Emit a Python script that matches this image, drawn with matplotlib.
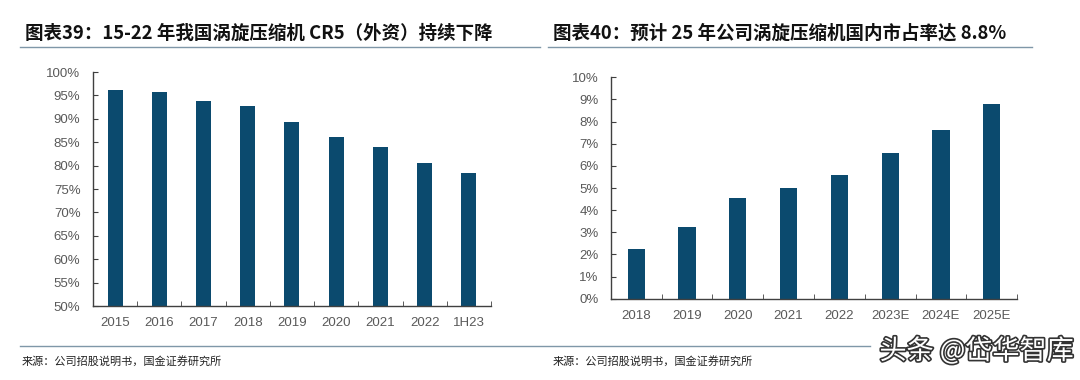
import matplotlib.pyplot as plt
import matplotlib.patheffects as pe
from matplotlib.ticker import FixedLocator, FuncFormatter
from matplotlib.lines import Line2D

plt.rcParams['font.family'] = ['Liberation Sans', 'Noto Sans CJK SC', 'DejaVu Sans']

# 图表39 数据
years_l = ['2015', '2016', '2017', '2018', '2019', '2020', '2021', '2022', '1H23']
cr5 = [96.2, 95.8, 93.9, 92.8, 89.3, 86.2, 84.0, 80.5, 78.4]

# 图表40 数据
years_r = ['2018', '2019', '2020', '2021', '2022', '2023E', '2024E', '2025E']
share = [2.26, 3.25, 4.53, 5.0, 5.6, 6.6, 7.6, 8.8]

title_l = '图表39：15-22 年我国涡旋压缩机 CR5（外资）持续下降'
title_r = '图表40：预计 25 年公司涡旋压缩机国内市占率达 8.8%'
source = '来源：公司招股说明书，国金证券研究所'

bar_color = '#0b4a6e'
tick_color = '#595959'
axis_color = '#404040'
cjk = ['Noto Sans CJK SC', 'DejaVu Sans']

fig = plt.figure(figsize=(10.8, 3.8), dpi=100)


def style_axis(ax, n, ymin, ymax, step):
    ax.set_xlim(-0.5, n - 0.5)
    ax.set_ylim(ymin, ymax)
    for s in ['top', 'right']:
        ax.spines[s].set_visible(False)
    for s in ['left', 'bottom']:
        ax.spines[s].set_color(axis_color)
        ax.spines[s].set_linewidth(1.0)
    ax.set_xticks(range(n))
    ax.xaxis.set_minor_locator(FixedLocator([i - 0.5 for i in range(n + 1)]))
    ax.tick_params(axis='x', which='major', length=0, pad=8, labelsize=9.5, labelcolor=tick_color)
    ax.tick_params(axis='x', which='minor', length=3.5, direction='in', color=axis_color)
    ticks = list(range(ymin, ymax + 1, step))
    ax.set_yticks(ticks)
    ax.yaxis.set_major_formatter(FuncFormatter(lambda v, p: '%d%%' % v))
    ax.tick_params(axis='y', length=3.5, direction='in', color=axis_color,
                   labelsize=9.5, labelcolor=tick_color, pad=9)


ax1 = fig.add_axes([0.0861, 0.1947, 0.3685, 0.6158])
ax1.bar(range(len(years_l)), cr5, width=0.34, color=bar_color)
ax1.set_xticklabels(years_l)
style_axis(ax1, len(years_l), 50, 100, 5)

ax2 = fig.add_axes([0.5657, 0.2139, 0.3760, 0.5827])
ax2.bar(range(len(years_r)), share, width=0.34, color=bar_color)
ax2.set_xticklabels(years_r)
style_axis(ax2, len(years_r), 0, 10, 1)

# 标题
fig.text(25 / 1080, 1 - 33 / 380, title_l, fontsize=13.3, fontweight='bold', family=cjk,
         va='center', ha='left', color='#111111')
fig.text(553 / 1080, 1 - 33 / 380, title_r, fontsize=13.3, fontweight='bold', family=cjk,
         va='center', ha='left', color='#111111')

line_c = '#7f97a8'
fig.add_artist(Line2D([20 / 1080, 540 / 1080], [1 - 47 / 380] * 2, color=line_c, lw=1.0))
fig.add_artist(Line2D([548 / 1080, 1032 / 1080], [1 - 47 / 380] * 2, color=line_c, lw=1.0))
fig.add_artist(Line2D([20 / 1080, 870 / 1080], [1 - 346 / 380] * 2, color=line_c, lw=1.0))

# 来源
fig.text(22 / 1080, 1 - 361 / 380, source, fontsize=8, family=cjk,
         va='center', ha='left', color='#222222')
fig.text(553 / 1080, 1 - 361 / 380, source, fontsize=8, family=cjk,
         va='center', ha='left', color='#222222')

# 水印
fig.text(1074 / 1080, 1 - 351 / 380, '头条 @岱华智库', fontsize=19.5, family=cjk,
         va='center', ha='right', color='white',
         path_effects=[pe.withStroke(linewidth=2.4, foreground='#333333')])

fig.savefig('out.png', dpi=100)
